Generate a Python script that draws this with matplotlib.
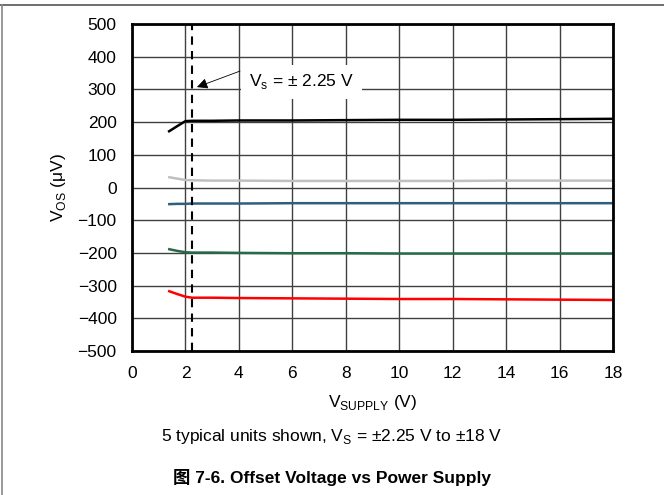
import matplotlib
matplotlib.use('Agg')
from matplotlib import pyplot as plt
from matplotlib.lines import Line2D

plt.rcParams['font.family'] = ['Liberation Sans', 'Noto Sans CJK SC', 'DejaVu Sans']
plt.rcParams['mathtext.fontset'] = 'custom'
plt.rcParams['mathtext.rm'] = 'Liberation Sans'

# supply voltage (V)
vsupply = [1.35, 1.7, 2.0, 2.25, 3, 4, 6, 8, 10, 12, 14, 16, 18]

# offset voltage (uV) for 5 typical units
unit_black = [170, 188, 203, 204, 204, 205, 205, 206, 207, 207, 208, 209, 210]
unit_gray = [32, 27, 23, 22, 21, 21, 20, 20, 20, 20, 21, 21, 21]
unit_blue = [-51, -50, -50, -49, -49, -49, -48, -48, -48, -48, -48, -48, -48]
unit_green = [-188, -194, -198, -199, -199, -200, -201, -201, -202, -202, -202, -202, -202]
unit_red = [-316, -326, -334, -337, -337, -338, -339, -340, -341, -341, -342, -343, -344]

series = [
    (unit_black, '#000000'),
    (unit_gray, '#c0c0c0'),
    (unit_blue, '#2e5f7f'),
    (unit_green, '#256b48'),
    (unit_red, '#ff0000'),
]

xticks = list(range(0, 19, 2))
yticks = list(range(-500, 501, 100))
ytick_labels = [str(v).replace('-', '\u2212') for v in yticks]

W, H = 664, 495


def main():
    fig = plt.figure(figsize=(W / 100, H / 100), dpi=100)
    ax = fig.add_axes([132 / W, 1 - 351 / H, (613 - 132) / W, (351 - 24) / H])

    for vals, col in series:
        ax.plot(vsupply, vals, color=col, lw=1.8, solid_capstyle='butt', zorder=3)

    ax.axvline(2.25, color='black', lw=1.5, ls=(0, (4, 3)), zorder=4)

    ax.set_xlim(0, 18)
    ax.set_ylim(-500, 500)
    ax.set_xticks(xticks)
    ax.set_yticks(yticks)
    ax.set_yticklabels(ytick_labels)
    ax.tick_params(length=0, labelsize=12.5, pad=11)
    ax.grid(True, color='#404040', lw=1.0, zorder=1)
    for s in ax.spines.values():
        s.set_linewidth(2.0)
        s.set_zorder(5)

    # annotation box and arrow
    ax.text(4.38, 323, r'V$_\mathrm{s}$ = $\pm$ 2.25 V', fontsize=12.5, ha='left', va='center',
            bbox=dict(boxstyle='square,pad=0.45', fc='white', ec='none'), zorder=6)
    ax.annotate('', xy=(2.43, 307), xytext=(4.04, 356),
                arrowprops=dict(arrowstyle='-|>', color='black', lw=0.6,
                                mutation_scale=16, shrinkA=0, shrinkB=0),
                zorder=6)

    ax.set_xlabel(r'V$_\mathrm{SUPPLY}$ (V)', fontsize=12.5)
    ax.set_ylabel(r'V$_\mathrm{OS}$ ($\mathrm{\mu}$V)', fontsize=12.5)
    ax.xaxis.set_label_coords(0.5, 1 - (403 - 24) / (351 - 24))
    ax.yaxis.set_label_coords((58 - 132) / (613 - 132), 0.5)
    ax.xaxis.label.set_va('center')
    ax.yaxis.label.set_va('center')

    fig.text(0.5, 1 - 437 / H, r'5 typical units shown, V$_\mathrm{S}$ = $\pm$2.25 V to $\pm$18 V',
             ha='center', va='center', fontsize=12.5)
    fig.text(0.5, 1 - 477 / H, '图 7-6. Offset Voltage vs Power Supply',
             ha='center', va='center', fontsize=12.5, fontweight='bold')

    # page frame lines
    fig.add_artist(Line2D([0, 1], [1 - 5 / H, 1 - 5 / H], color='#555555', lw=1.2,
                          transform=fig.transFigure))
    fig.add_artist(Line2D([1.5 / W, 1.5 / W], [0, 1 - 5 / H], color='#888888', lw=1.2,
                          transform=fig.transFigure))

    fig.savefig('out.png', dpi=100)


if __name__ == '__main__':
    main()
